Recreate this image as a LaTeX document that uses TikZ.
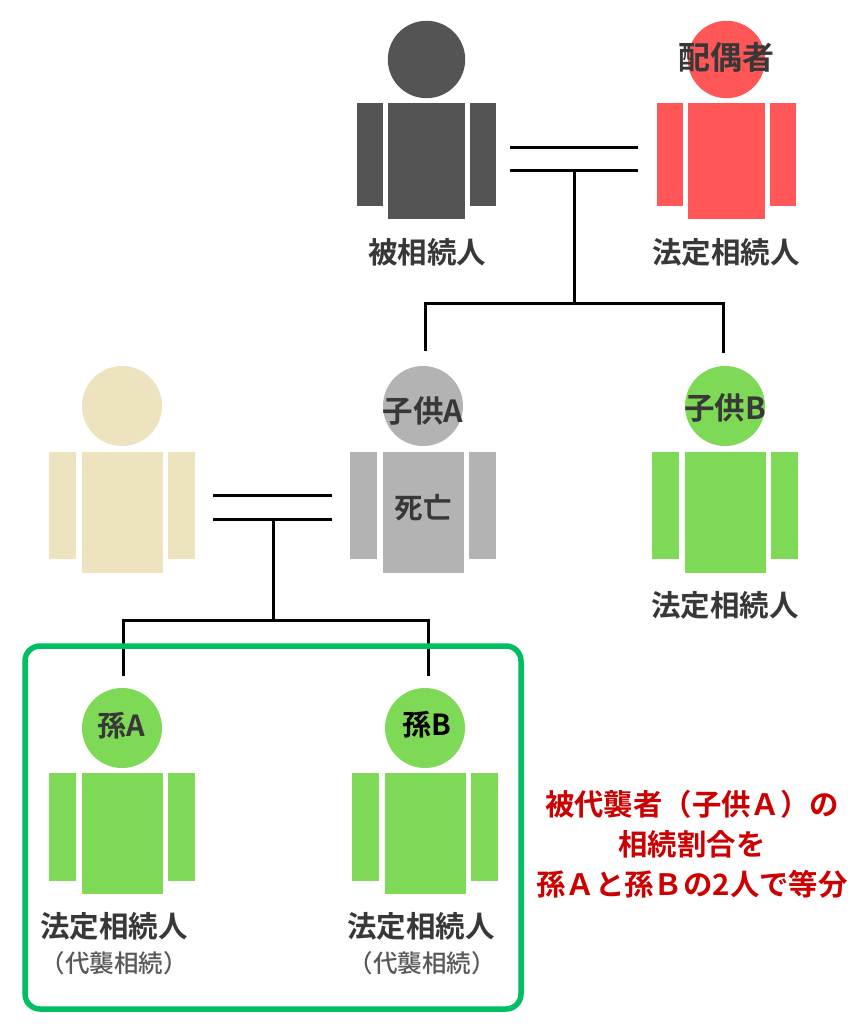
\documentclass[tikz,border=0pt]{standalone}
\usepackage{fontspec}
\newfontfamily\cjk{Noto Sans CJK JP}[BoldFont={Noto Sans CJK JP Bold}]
\newfontfamily\cjkm{Noto Sans CJK JP Medium}
\definecolor{cdark}{HTML}{545454}
\definecolor{cred}{HTML}{FF5757}
\definecolor{ccream}{HTML}{EDE4BF}
\definecolor{cgray}{HTML}{B3B3B3}
\definecolor{cgreen}{HTML}{7ED957}
\definecolor{cframe}{HTML}{00BF63}
\definecolor{ctext}{HTML}{383838}
\definecolor{csub}{HTML}{595959}
\definecolor{cnote}{HTML}{CC0000}
\tikzset{
 x=1pt,y=-1pt,
 line/.style={draw=black,line width=3pt},
 lab/.style={font=\cjk\bfseries\fontsize{29.5}{34}\selectfont,text=ctext,inner sep=0pt},
 sub/.style={font=\cjkm\fontsize{24.5}{28}\selectfont,text=csub,inner sep=0pt},
 head/.style={font=\cjk\bfseries\fontsize{30.5}{34}\selectfont,text=ctext,inner sep=0pt},
 note/.style={font=\cjk\bfseries\fontsize{29.4}{34}\selectfont,text=cnote,inner sep=0pt,align=center},
}
\newcommand{\hr}{40}
\newcommand{\armw}{27}
\newcommand{\gapw}{32}
\newcommand{\person}[8]{%
 \fill[#1] (#3,#4) circle (\hr);
 \fill[#1] (#2,#6) rectangle ++(\armw,#8-#6);
 \fill[#1] (#2+#5-\armw,#6) rectangle ++(\armw,#8-#6);
 \fill[#1] (#2+\gapw,#6) rectangle (#2+#5-\gapw,#7);
}
\begin{document}
\begin{tikzpicture}
\useasboundingbox (0,0) rectangle (853,1024);
\fill[white] (0,0) rectangle (853,1024);
\renewcommand{\hr}{38.7}
\renewcommand{\armw}{26}
\renewcommand{\gapw}{30.7}
\person{cdark}{357}{426.5}{59.5}{139}{103}{219}{206}
\person{cred}{657}{726.5}{59.5}{139}{103}{219}{206}
\renewcommand{\hr}{40}
\renewcommand{\armw}{27}
\renewcommand{\gapw}{32.5}
\person{ccream}{49}{122}{406}{146}{452}{573}{559}
\person{cgray}{350}{423}{406}{146}{452}{573}{559}
\person{cgreen}{652}{725}{406}{146}{452}{573}{559}
\person{cgreen}{49}{122}{728}{146}{773}{894}{881}
\person{cgreen}{352}{425}{728}{146}{773}{894}{881}
\coordinate (m1a) at (510,148); \coordinate (m1b) at (638,148);
\coordinate (m2a) at (510,171); \coordinate (m2b) at (638,171);
\coordinate (t1) at (574,171); \coordinate (t2) at (574,303);
\coordinate (l1) at (425,303); \coordinate (r1) at (723,303);
\coordinate (l1e) at (425,351); \coordinate (r1e) at (723,353);
\draw[line] (m1a) -- (m1b);
\draw[line] (m2a) -- (m2b);
\draw[line] (t1) -- (t2);
\draw[line,line join=miter] (l1e) -- (l1) -- (r1) -- (r1e);
\coordinate (m3a) at (213,495); \coordinate (m3b) at (332,495);
\coordinate (m4a) at (213,519); \coordinate (m4b) at (332,519);
\coordinate (t3) at (273,519); \coordinate (t4) at (273,620);
\coordinate (l2) at (123,620); \coordinate (r2) at (428,620);
\coordinate (l2e) at (123,676); \coordinate (r2e) at (428,676);
\draw[line] (m3a) -- (m3b);
\draw[line] (m4a) -- (m4b);
\draw[line] (t3) -- (t4);
\draw[line] (l2e) -- (l2) -- (r2) -- (r2e);
\draw[cframe,line width=5.5pt,rounded corners=15pt] (25,646) rectangle (521,1009);
\node[head,font=\cjk\bfseries\fontsize{32}{36}\selectfont] (n1) at (726,57) {配偶者};
\node[head] (n2) at (423,411) {子供A};
\node[head] (n3) at (725,408) {子供B};
\node[head,font=\cjk\bfseries\fontsize{28.5}{34}\selectfont] (n4) at (423,508) {死亡};
\node[head,font=\cjk\bfseries\fontsize{29}{34}\selectfont] (n5) at (121,726) {孫A};
\node[head,font=\cjk\bfseries\fontsize{29}{34}\selectfont,text=black] (n6) at (427,725) {孫B};
\node[lab] (a) at (427,252) {被相続人};
\node[lab] (b) at (726,252) {法定相続人};
\node[lab] (c) at (725,605) {法定相続人};
\node[lab] (d) at (114,926) {法定相続人};
\node[lab] (e) at (421,926) {法定相続人};
\node[sub] (f) at (114,963.5) {（代襲相続）};
\node[sub] (g) at (422,963.5) {（代襲相続）};
\node[note] (h) at (692,804) {被代襲者（子供Ａ）の};
\node[note] (i) at (692,844) {相続割合を};
\node[note] (j) at (692,884) {孫Ａと孫Ｂの2人で等分};
\end{tikzpicture}
\end{document}
